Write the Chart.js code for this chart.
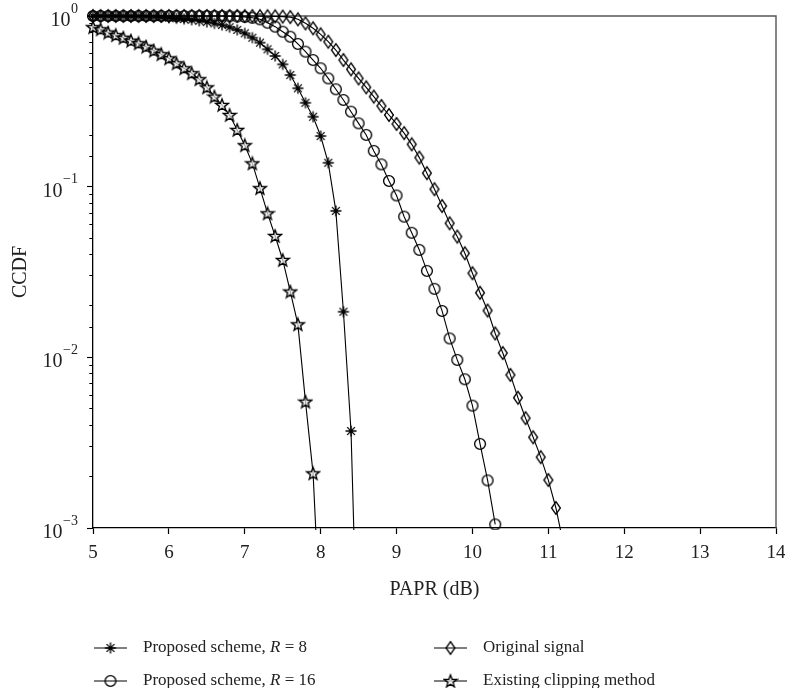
<!DOCTYPE html>
<html>
<head>
<meta charset="utf-8">
<script src="https://cdn.jsdelivr.net/npm/chart.js@4.4.1/dist/chart.umd.min.js"></script>
<style>
  html, body { margin: 0; padding: 0; background: #fff; }
</style>
</head>
<body>
<canvas id="ccdfChart" width="785" height="688"></canvas>
<script>
// PAPR grid (dB), 0.1 dB steps
var paprDb = [5.0, 5.1, 5.2, 5.3, 5.4, 5.5, 5.6, 5.7, 5.8, 5.9,
              6.0, 6.1, 6.2, 6.3, 6.4, 6.5, 6.6, 6.7, 6.8, 6.9,
              7.0, 7.1, 7.2, 7.3, 7.4, 7.5, 7.6, 7.7, 7.8, 7.9,
              8.0, 8.1, 8.2, 8.3, 8.4, 8.5, 8.6, 8.7, 8.8, 8.9,
              9.0, 9.1, 9.2, 9.3, 9.4, 9.5, 9.6, 9.7, 9.8, 9.9,
              10.0, 10.1, 10.2, 10.3, 10.4, 10.5, 10.6, 10.7, 10.8, 10.9,
              11.0, 11.1, 11.2];

var seriesLabels = ['Proposed scheme, R = 8', 'Proposed scheme, R = 16',
                    'Original signal', 'Existing clipping method'];

var ccdfR8 = [1.0, 1.0, 0.999, 0.999, 0.998, 0.997, 0.996, 0.994, 0.991, 0.987,
              0.978, 0.970, 0.960, 0.950, 0.937, 0.922, 0.905, 0.885, 0.860, 0.829,
              0.792, 0.746, 0.698, 0.638, 0.583, 0.521, 0.451, 0.377, 0.310, 0.257,
              0.198, 0.138, 0.0721, 0.0185, 0.0037, 0.0001];

var ccdfR16 = [1, 1, 1, 1, 1, 1, 1, 1, 1, 1,
               1, 1, 1, 1, 1, 1, 1, 0.999, 0.997, 0.994,
               0.988, 0.976, 0.956, 0.913, 0.866, 0.809, 0.756, 0.686, 0.618, 0.552,
               0.494, 0.431, 0.372, 0.322, 0.275, 0.235, 0.201, 0.162, 0.135, 0.108,
               0.0888, 0.0667, 0.0537, 0.0426, 0.0321, 0.0252, 0.0187, 0.0129, 0.00966, 0.00744,
               0.00521, 0.00311, 0.0019, 0.00105];

var ccdfOriginal = [1, 1, 1, 1, 1, 1, 1, 1, 1, 1,
                    1, 1, 1, 1, 1, 1, 1, 1, 1, 1,
                    0.999, 0.999, 0.998, 0.997, 0.995, 0.992, 0.985, 0.956, 0.906, 0.847,
                    0.781, 0.707, 0.632, 0.552, 0.487, 0.431, 0.382, 0.337, 0.297, 0.263,
                    0.233, 0.206, 0.177, 0.148, 0.120, 0.0966, 0.077, 0.061, 0.051, 0.0407,
                    0.0311, 0.0239, 0.0188, 0.0138, 0.0106, 0.00789, 0.0058, 0.0044, 0.0034, 0.0026,
                    0.00191, 0.00131, 0.0008];

var ccdfClipping = [0.860, 0.836, 0.800, 0.772, 0.746, 0.717, 0.692, 0.661, 0.627, 0.597,
                    0.565, 0.528, 0.494, 0.462, 0.426, 0.382, 0.337, 0.301, 0.263, 0.215,
                    0.175, 0.137, 0.098, 0.0698, 0.0514, 0.0372, 0.0243, 0.0156, 0.0055, 0.00209,
                    0.00025];

var xTickValues = [5, 6, 7, 8, 9, 10, 11, 12, 13, 14];
var yDecades = [0.001, 0.01, 0.1, 1];
var yExponents = ['\u22123', '\u22122', '\u22121', '0'];

var serif = "'Liberation Serif', 'Times New Roman', serif";
var ink = '#000';

// marker glyphs
function makeMarker(w, h, draw) {
    var c = document.createElement('canvas');
    c.width = w;
    c.height = h;
    var g = c.getContext('2d');
    g.strokeStyle = ink;
    g.lineWidth = 1.35;
    draw(g, w / 2, h / 2);
    return c;
}
var asteriskMark = makeMarker(14, 14, function (g, cx, cy) {
    g.beginPath();
    for (var k = 0; k < 4; k++) {
        var a = k * Math.PI / 4;
        g.moveTo(cx - 5.5 * Math.cos(a), cy - 5.5 * Math.sin(a));
        g.lineTo(cx + 5.5 * Math.cos(a), cy + 5.5 * Math.sin(a));
    }
    g.stroke();
});
var circleMark = makeMarker(14, 14, function (g, cx, cy) {
    g.beginPath();
    g.arc(cx, cy, 5.4, 0, Math.PI * 2);
    g.stroke();
});
var diamondMark = makeMarker(12, 16, function (g, cx, cy) {
    g.beginPath();
    g.moveTo(cx, cy - 6.3);
    g.lineTo(cx + 4.4, cy);
    g.lineTo(cx, cy + 6.3);
    g.lineTo(cx - 4.4, cy);
    g.closePath();
    g.stroke();
});
var starMark = makeMarker(16, 16, function (g, cx, cy) {
    g.beginPath();
    for (var k = 0; k < 10; k++) {
        var r = k % 2 === 0 ? 6.6 : 2.8;
        var a = -Math.PI / 2 + k * Math.PI / 5;
        var px = cx + r * Math.cos(a), py = cy + 0.5 + r * Math.sin(a);
        if (k === 0) g.moveTo(px, py); else g.lineTo(px, py);
    }
    g.closePath();
    g.fillStyle = 'rgba(235,235,235,0.7)';
    g.fill();
    g.stroke();
});

function toPoints(values) {
    return values.map(function (v, i) { return { x: paprDb[i], y: v }; });
}

function makeSet(label, values, marker) {
    return {
        label: label,
        data: toPoints(values),
        borderColor: ink,
        borderWidth: 1.1,
        pointStyle: marker,
        pointRadius: 5,
        pointBorderWidth: 0,
        pointBackgroundColor: 'rgba(0,0,0,0)',
        tension: 0,
        fill: false,
        clip: { left: 10, top: 10, right: 10, bottom: 2 }
    };
}

function isDecade(v) {
    var e = Math.log10(v);
    return Math.abs(e - Math.round(e)) < 1e-6;
}

// top and right edges of the plot box
var frameBorder = {
    id: 'frameBorder',
    beforeDatasetsDraw: function (chart) {
        var a = chart.chartArea, ctx = chart.ctx;
        ctx.save();
        ctx.strokeStyle = '#555';
        ctx.lineWidth = 1.4;
        ctx.beginPath();
        ctx.moveTo(a.left, a.top);
        ctx.lineTo(a.right, a.top);
        ctx.lineTo(a.right, a.bottom);
        ctx.stroke();
        ctx.restore();
    }
};

// decade labels on the log axis: "10" with a raised exponent
var powerLabels = {
    id: 'powerLabels',
    afterDraw: function (chart) {
        var ctx = chart.ctx, ys = chart.scales.y;
        ctx.save();
        ctx.fillStyle = '#222';
        ctx.textBaseline = 'alphabetic';
        ctx.textAlign = 'left';
        yDecades.forEach(function (v, i) {
            var py = ys.getPixelForValue(v);
            var exp = yExponents[i];
            ctx.font = '14px ' + serif;
            var ew = ctx.measureText(exp).width;
            var ex = 78 - ew;
            ctx.fillText(exp, ex, py - 3.5);
            ctx.font = '20px ' + serif;
            var bw = ctx.measureText('10').width;
            ctx.fillText('10', ex - bw - 0.5, py + 10);
        });
        ctx.restore();
    }
};

// two-column legend under the axis title (dataset order: R=8, original, R=16, clipping)
var legendSlots = [[94, 648], [434, 648], [94, 681], [434, 681]];
var gridLegend = {
    id: 'gridLegend',
    afterDraw: function (chart) {
        var ctx = chart.ctx;
        chart.data.datasets.forEach(function (ds, i) {
            var x0 = legendSlots[i][0], y = legendSlots[i][1];
            ctx.save();
            ctx.strokeStyle = ink;
            ctx.lineWidth = 1.1;
            ctx.beginPath();
            ctx.moveTo(x0, y);
            ctx.lineTo(x0 + 33, y);
            ctx.stroke();
            var m = ds.pointStyle;
            ctx.drawImage(m, x0 + 16.5 - m.width / 2, y - m.height / 2);
            var parts = ds.label.split(/(R)(?= =)/);
            var tx = x0 + 49;
            ctx.fillStyle = '#222';
            ctx.textBaseline = 'middle';
            parts.forEach(function (p) {
                ctx.font = (p === 'R' ? 'italic ' : '') + '17px ' + serif;
                ctx.fillText(p, tx, y);
                tx += ctx.measureText(p).width;
            });
            ctx.restore();
        });
    }
};

var ctx = document.getElementById('ccdfChart').getContext('2d');
var ccdfChart = new Chart(ctx, {
    type: 'line',
    data: {
        datasets: [
            makeSet(seriesLabels[0], ccdfR8, asteriskMark),
            makeSet(seriesLabels[2], ccdfOriginal, diamondMark),
            makeSet(seriesLabels[1], ccdfR16, circleMark),
            makeSet(seriesLabels[3], ccdfClipping, starMark)
        ]
    },
    options: {
        responsive: false,
        animation: false,
        events: [],
        layout: { padding: { left: 0, right: 9, top: 16, bottom: 86 } },
        plugins: {
            legend: { display: false },
            tooltip: { enabled: false }
        },
        scales: {
            x: {
                type: 'linear',
                min: 5,
                max: 14,
                afterBuildTicks: function (s) {
                    s.ticks = xTickValues.map(function (v) { return { value: v }; });
                },
                afterFit: function (s) {
                    s.height = 74;
                    s.paddingLeft = 0;
                    s.paddingRight = 0;
                },
                grid: { drawOnChartArea: false, tickLength: 6, tickColor: ink, tickWidth: 1.2 },
                border: { color: ink, width: 1.3 },
                ticks: {
                    color: '#222',
                    padding: 8,
                    maxRotation: 0,
                    font: { family: serif, size: 19 }
                },
                title: {
                    display: true,
                    text: 'PAPR (dB)',
                    color: '#222',
                    padding: { top: 4, bottom: 0 },
                    font: { family: serif, size: 20 }
                }
            },
            y: {
                type: 'logarithmic',
                min: 0.001,
                max: 1,
                afterFit: function (s) {
                    s.width = 93;
                    s.paddingTop = 0;
                    s.paddingBottom = 0;
                },
                grid: {
                    drawOnChartArea: false,
                    tickLength: 6,
                    tickColor: ink,
                    tickWidth: 1.1,
                    tickBorderDash: function (c) {
                        return c.tick && isDecade(c.tick.value) ? [] : [0, 2.3, 10, 10];
                    }
                },
                border: { color: ink, width: 1.3 },
                ticks: {
                    autoSkip: false,
                    display: false
                },
                title: {
                    display: true,
                    text: 'CCDF',
                    color: '#222',
                    padding: { top: 9, bottom: 0 },
                    font: { family: serif, size: 20 }
                }
            }
        }
    },
    plugins: [frameBorder, powerLabels, gridLegend]
});
</script>
</body>
</html>
